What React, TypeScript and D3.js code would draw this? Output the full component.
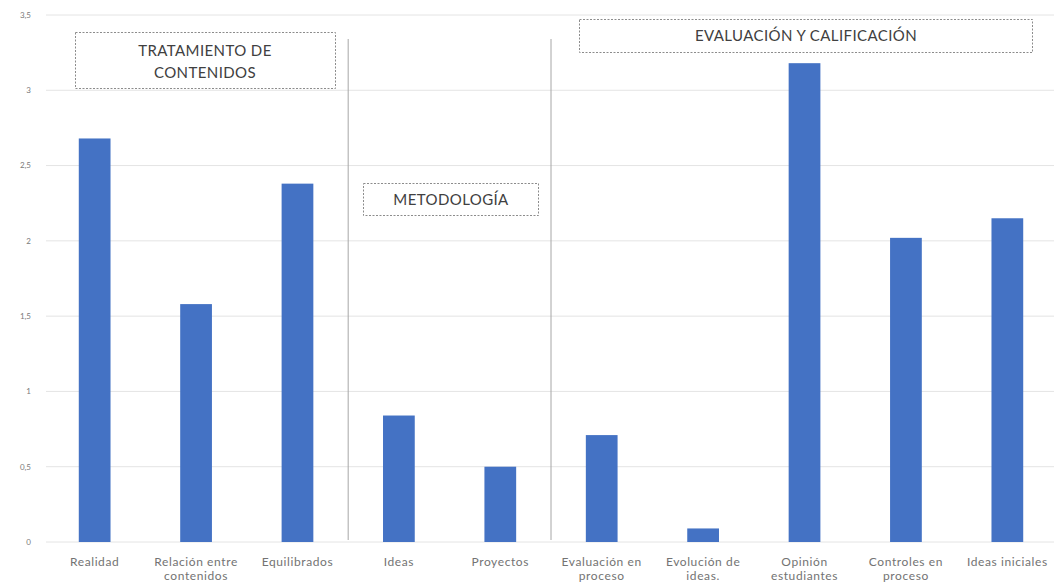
import React from 'react';
import * as d3 from 'd3';

// categories (x labels, line-wrapped as in the original)
const categories = [
  'Realidad',
  'Relación entre contenidos',
  'Equilibrados',
  'Ideas',
  'Proyectos',
  'Evaluación en proceso',
  'Evolución de ideas.',
  'Opinión estudiantes',
  'Controles en proceso',
  'Ideas iniciales',
];
const labelLines = [
  ['Realidad'],
  ['Relación entre', 'contenidos'],
  ['Equilibrados'],
  ['Ideas'],
  ['Proyectos'],
  ['Evaluación en', 'proceso'],
  ['Evolución de', 'ideas.'],
  ['Opinión', 'estudiantes'],
  ['Controles en', 'proceso'],
  ['Ideas iniciales'],
];
const values = [2.68, 1.58, 2.38, 0.84, 0.5, 0.71, 0.09, 3.18, 2.02, 2.15];
const yTicks = [0, 0.5, 1, 1.5, 2, 2.5, 3, 3.5];

// group separators fall after these categories
const separatorsAfter = ['Equilibrados', 'Proyectos'];

const W = 1054;
const H = 587;
const BLUE = '#4472c4';
const FONT = 'Lato, "Open Sans", sans-serif';

export default function App() {
  const x = d3
    .scaleBand<string>()
    .domain(categories)
    .range([44, 1058])
    .paddingInner(0.687)
    .paddingOuter(0.343);
  const y = d3.scaleLinear().domain([0, 3.5]).range([542, 15]);

  const fmt = (v: number) => String(v).replace('.', ',');
  const step = x.step();

  return (
    <div style={{ position: 'absolute', left: 0, top: 0, background: '#fff' }}>
      <svg width={W} height={H} style={{ display: 'block', fontFamily: FONT }}>
        <rect width={W} height={H} fill="#fff" />

        {/* gridlines + y labels */}
        {yTicks.map((t) => (
          <g key={t}>
            <line x1={46} x2={W} y1={y(t)} y2={y(t)} stroke="#e4e4e4" strokeWidth={1} />
            <text x={31} y={y(t)} dy="0.35em" textAnchor="end" fontSize={8} fill="#7a7a7a">
              {fmt(t)}
            </text>
          </g>
        ))}

        {/* group separators */}
        {separatorsAfter.map((c) => {
          const sx = (x(c) ?? 0) + x.bandwidth() / 2 + step / 2;
          return <line key={c} x1={sx} x2={sx} y1={39} y2={540} stroke="#a6a6a6" strokeWidth={1} />;
        })}

        {/* bars */}
        {categories.map((c, i) => (
          <rect
            key={c}
            x={x(c)}
            y={y(values[i])}
            width={x.bandwidth()}
            height={y(0) - y(values[i])}
            fill={BLUE}
          />
        ))}

        {/* x labels */}
        {categories.map((c, i) => (
          <text
            key={c}
            x={(x(c) ?? 0) + x.bandwidth() / 2}
            y={566}
            textAnchor="middle"
            fontSize={12}
            letterSpacing={0.6}
            fill="#737373"
          >
            {labelLines[i].map((l, j) => (
              <tspan key={j} x={(x(c) ?? 0) + x.bandwidth() / 2} dy={j === 0 ? 0 : 14}>
                {l}
              </tspan>
            ))}
          </text>
        ))}

        {/* group annotations */}
        <g fill="none" stroke="#8c8c8c" strokeWidth={1} strokeDasharray="2,1.5">
          <rect x={75.5} y={32.5} width={260} height={56} fill="#fff" />
          <rect x={363.5} y={183.5} width={175} height={32} fill="#fff" />
          <rect x={579.5} y={19.5} width={453} height={33} fill="#fff" />
        </g>
        <g fontSize={15} letterSpacing={0.4} fill="#404040" textAnchor="middle">
          <text x={205} y={51} dy="0.35em">TRATAMIENTO DE</text>
          <text x={205} y={73} dy="0.35em">CONTENIDOS</text>
          <text x={451} y={200} dy="0.35em">METODOLOGÍA</text>
          <text x={806} y={36} dy="0.35em">EVALUACIÓN Y CALIFICACIÓN</text>
        </g>
      </svg>
    </div>
  );
}
